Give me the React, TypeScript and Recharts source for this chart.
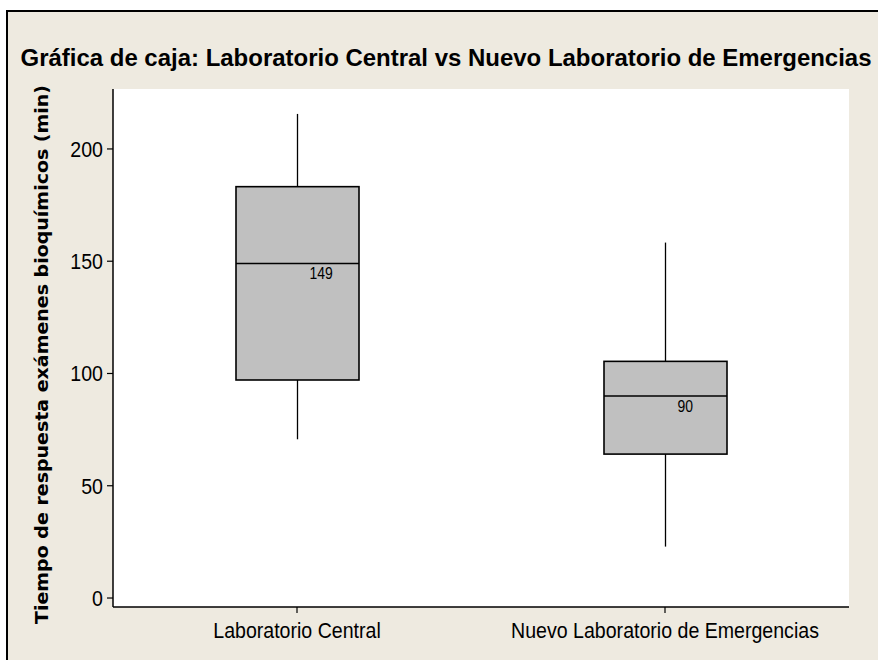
import React from 'react';
import { ComposedChart, Bar, XAxis, YAxis, CartesianGrid } from 'recharts';

const categories = ['Laboratorio Central', 'Nuevo Laboratorio de Emergencias'];
const minValues = [70.7, 22.9];
const q1Values = [97.1, 64.1];
const medianValues = [149, 90];
const q3Values = [183.2, 105.4];
const maxValues = [215.6, 158.3];
const yTicks = [0, 50, 100, 150, 200];

const title = 'Gráfica de caja: Laboratorio Central vs Nuevo Laboratorio de Emergencias';
const yLabel = 'Tiempo de respuesta exámenes bioquímicos  (min)';

const data = categories.map((name, i) => ({
  name,
  range: [minValues[i], maxValues[i]],
  min: minValues[i],
  q1: q1Values[i],
  median: medianValues[i],
  q3: q3Values[i],
  max: maxValues[i],
}));

const FONT = '"Liberation Sans", Arial, sans-serif';
const SQUEEZE = 0.89;

const XTick = (props: any) => {
  const { x, y, payload } = props;
  return (
    <g transform={`translate(${x},${y}) scale(${SQUEEZE},1)`}>
      <text x={0} y={0} dy="0.71em" textAnchor="middle" fontSize={22} fontFamily={FONT} fill="#000">
        {payload.value}
      </text>
    </g>
  );
};

const YTick = (props: any) => {
  const { x, y, payload } = props;
  return (
    <g transform={`translate(${x},${y}) scale(${SQUEEZE},1)`}>
      <text x={0} y={0} dy="0.355em" textAnchor="end" fontSize={22} fontFamily={FONT} fill="#000">
        {payload.value}
      </text>
    </g>
  );
};

const BoxShape = (props: any) => {
  const { x, y, width, height, payload } = props;
  const { min, q1, median, q3, max } = payload;
  const py = (v: number) => y + (height * (max - v)) / (max - min);
  const cx = x + width / 2;
  return (
    <g>
      <line x1={cx} x2={cx} y1={py(max)} y2={py(q3)} stroke="#000" strokeWidth={1.3} />
      <line x1={cx} x2={cx} y1={py(q1)} y2={py(min)} stroke="#000" strokeWidth={1.3} />
      <rect x={x} y={py(q3)} width={width} height={py(q1) - py(q3)} fill="#C0C0C0" stroke="#000" strokeWidth={1.6} />
      <line x1={x} x2={x + width} y1={py(median)} y2={py(median)} stroke="#000" strokeWidth={1.6} />
      <g transform={`translate(${cx + 12},${py(median) + 16}) scale(0.82,1)`}>
        <text x={0} y={0} fontSize={17} fontFamily={FONT} fill="#000">
          {median}
        </text>
      </g>
    </g>
  );
};

export default function App() {
  return (
    <div style={{ position: 'absolute', left: 0, top: 0, width: 878, height: 660, background: '#fff', overflow: 'hidden' }}>
      <div
        style={{
          position: 'absolute',
          left: 6,
          top: 10,
          width: 880,
          height: 660,
          background: '#EEEAE0',
          borderLeft: '2px solid #000',
          borderTop: '2px solid #000',
        }}
      />
      <div style={{ position: 'absolute', left: 0, top: 0 }}>
        <ComposedChart width={878} height={660} data={data} margin={{ top: 89, right: 29, left: 0, bottom: 0 }}>
          <CartesianGrid fill="#fff" stroke="none" horizontal={false} vertical={false} />
          <XAxis
            dataKey="name"
            type="category"
            height={53}
            tickSize={6}
            tickMargin={9}
            axisLine={{ stroke: '#000', strokeWidth: 1.5 }}
            tickLine={{ stroke: '#000', strokeWidth: 1.2 }}
            tick={<XTick />}
          />
          <XAxis
            xAxisId="top"
            dataKey="name"
            type="category"
            orientation="top"
            height={0}
            tick={false}
            tickLine={false}
            axisLine={{ stroke: '#000', strokeWidth: 1.5 }}
          />
          <YAxis
            type="number"
            domain={[-4, 226.7]}
            ticks={yTicks}
            allowDataOverflow
            width={113}
            tickSize={6}
            tickMargin={4}
            axisLine={{ stroke: '#000', strokeWidth: 1.5 }}
            tickLine={{ stroke: '#000', strokeWidth: 1.2 }}
            tick={<YTick />}
          />
          <YAxis
            yAxisId="right"
            type="number"
            orientation="right"
            domain={[-4, 226.7]}
            width={0}
            tick={false}
            tickLine={false}
            axisLine={{ stroke: '#000', strokeWidth: 1.5 }}
          />
          <Bar dataKey="range" barSize={123} shape={<BoxShape />} isAnimationActive={false} />
        </ComposedChart>
      </div>
      <svg width={878} height={660} style={{ position: 'absolute', left: 0, top: 0, pointerEvents: 'none' }}>
        <text
          x={446}
          y={66}
          textAnchor="middle"
          fontFamily={FONT}
          fontWeight="bold"
          fontSize={23}
          textLength={851}
          lengthAdjust="spacingAndGlyphs"
          fill="#000"
        >
          {title}
        </text>
        <text
          transform="translate(48, 354.5) rotate(-90)"
          x={0}
          y={0}
          textAnchor="middle"
          fontFamily='"DejaVu Sans", Verdana, sans-serif'
          fontWeight="bold"
          fontSize={17}
          textLength={539}
          lengthAdjust="spacingAndGlyphs"
          fill="#000"
        >
          {yLabel}
        </text>
      </svg>
    </div>
  );
}
